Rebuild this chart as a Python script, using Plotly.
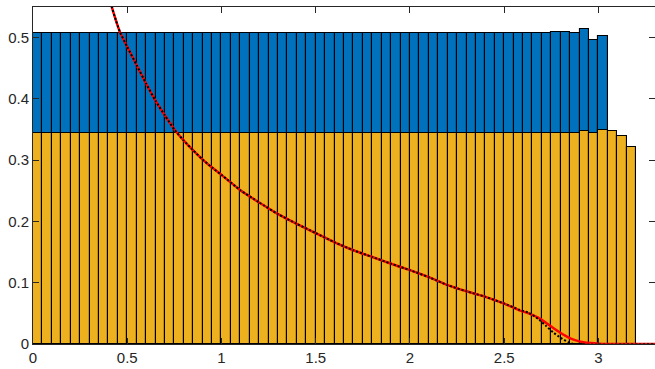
import plotly.graph_objects as go

bin_width = 0.05
# Blue histogram (61 bins from 0 to 3.05)
blue_vals = [0.508] * 55 + [0.509, 0.510, 0.507, 0.514, 0.496, 0.503]
# Yellow histogram (64 bins from 0 to 3.2)
yellow_vals = [0.345] * 58 + [0.3476, 0.3445, 0.3498, 0.348, 0.3394, 0.3214]

blue_x = [bin_width * (i + 0.5) for i in range(len(blue_vals))]
yellow_x = [bin_width * (i + 0.5) for i in range(len(yellow_vals))]

# Red solid curve
red_x = [0.40, 0.42, 0.44, 0.46, 0.50, 0.55, 0.60, 0.65, 0.70, 0.75, 0.80, 0.85,
         0.90, 0.95, 1.00, 1.10, 1.20, 1.30, 1.40, 1.50, 1.60, 1.70, 1.80, 1.90,
         2.00, 2.10, 2.20, 2.30, 2.40, 2.50, 2.58, 2.63, 2.68, 2.72, 2.76, 2.80,
         2.84, 2.88, 2.92, 2.96, 3.00, 3.05, 3.30]
red_y = [0.570, 0.548, 0.528, 0.510, 0.485, 0.455, 0.425, 0.397, 0.373, 0.350, 0.332, 0.316,
         0.301, 0.288, 0.276, 0.251, 0.231, 0.212, 0.196, 0.181, 0.166, 0.153, 0.142, 0.131,
         0.1205, 0.109, 0.096, 0.086, 0.077, 0.066, 0.055, 0.050, 0.043, 0.035, 0.026, 0.018,
         0.011, 0.006, 0.003, 0.0015, 0.0006, 0.0, 0.0]

# Black dotted curve
black_x = [0.40, 0.42, 0.44, 0.46, 0.50, 0.55, 0.60, 0.65, 0.70, 0.75, 0.80, 0.85,
           0.90, 0.95, 1.00, 1.10, 1.20, 1.30, 1.40, 1.50, 1.60, 1.70, 1.80, 1.90,
           2.00, 2.10, 2.20, 2.30, 2.40, 2.50, 2.58, 2.63, 2.68, 2.72, 2.76, 2.80,
           2.84, 2.87, 3.30]
black_y = [0.570, 0.548, 0.528, 0.510, 0.485, 0.455, 0.425, 0.397, 0.373, 0.350, 0.332, 0.316,
           0.301, 0.288, 0.276, 0.251, 0.231, 0.212, 0.196, 0.181, 0.166, 0.153, 0.142, 0.131,
           0.1205, 0.109, 0.096, 0.086, 0.077, 0.066, 0.056, 0.051, 0.041, 0.030, 0.019, 0.010,
           0.003, 0.0, 0.0]

x_ticks = [0, 0.5, 1, 1.5, 2, 2.5, 3]
x_tick_text = ["0", "0.5", "1", "1.5", "2", "2.5", "3"]
y_ticks = [0, 0.1, 0.2, 0.3, 0.4, 0.5]
y_tick_text = ["0", "0.1", "0.2", "0.3", "0.4", "0.5"]

fig = go.Figure()
fig.add_trace(go.Bar(x=blue_x, y=blue_vals, width=bin_width,
                     marker=dict(color="#0072BD", line=dict(color="black", width=1.1)),
                     showlegend=False))
fig.add_trace(go.Bar(x=yellow_x, y=yellow_vals, width=bin_width,
                     marker=dict(color="#EDB120", line=dict(color="black", width=1.1)),
                     showlegend=False))
fig.add_trace(go.Scatter(x=red_x, y=red_y, mode="lines",
                         line=dict(color="#FF0000", width=2.5, shape="spline", smoothing=0.5),
                         showlegend=False))
fig.add_trace(go.Scatter(x=black_x, y=black_y, mode="lines",
                         line=dict(color="black", width=2, dash="2px,2px", shape="spline", smoothing=0.5),
                         showlegend=False))
# helper trace so the right-hand tick axis is drawn
fig.add_trace(go.Scatter(x=[None], y=[None], yaxis="y2", showlegend=False, hoverinfo="skip"))

font = dict(family="Liberation Sans, Arial, sans-serif", size=15, color="#262626")
tick_common = dict(showgrid=False, zeroline=False, ticks="inside", ticklen=6,
                   tickcolor="#262626", tickfont=font)

fig.update_layout(
    width=655, height=369,
    margin=dict(l=33, r=0, t=7, b=25),
    plot_bgcolor="white", paper_bgcolor="white",
    barmode="overlay", bargap=0,
    xaxis=dict(range=[0, 3.3], tickvals=x_ticks, ticktext=x_tick_text,
               showline=True, linecolor="#262626", linewidth=1, mirror="ticks", **tick_common),
    yaxis=dict(range=[0, 0.55], tickvals=y_ticks, ticktext=y_tick_text,
               showline=True, linecolor="#262626", linewidth=1, mirror=False, **tick_common),
    yaxis2=dict(range=[0, 0.55], tickvals=y_ticks, overlaying="y", side="right",
                showticklabels=False, showline=False, **tick_common),
)

fig.write_html("out.html")
